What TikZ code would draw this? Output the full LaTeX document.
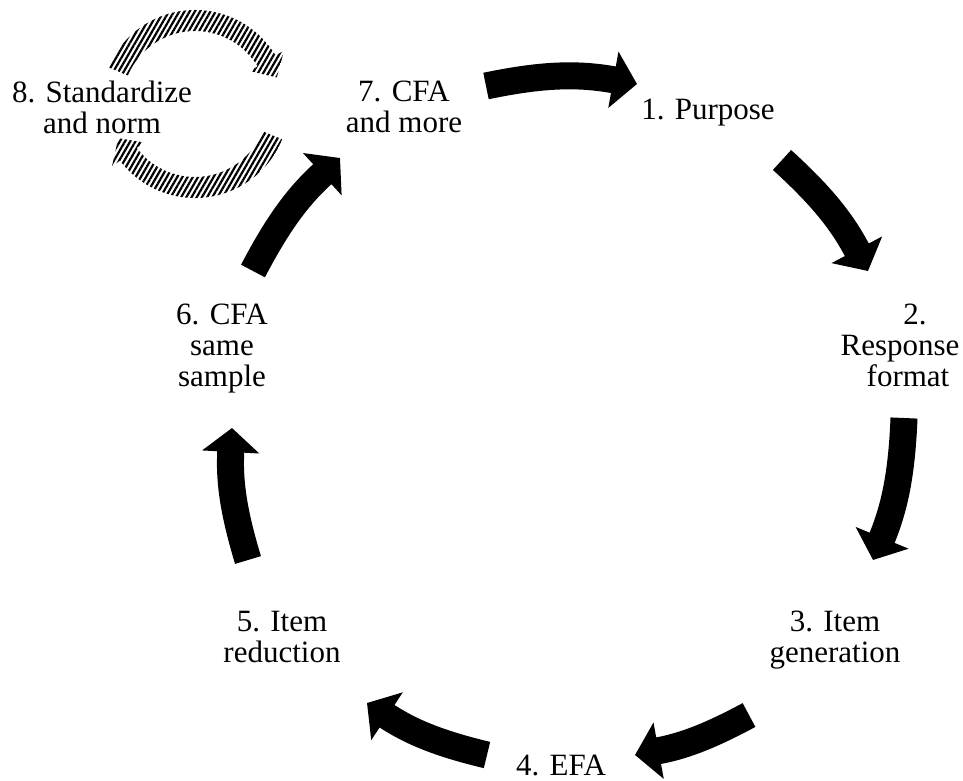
\documentclass[tikz,border=0pt]{standalone}
\usepackage{fontspec}
\setmainfont{Liberation Serif}
\usetikzlibrary{arrows.meta,patterns.meta}
\begin{document}
\begin{tikzpicture}[x=1pt,y=-1pt,
  lbl/.style={inner sep=0pt, anchor=north, align=center,
              font=\fontsize{31}{31}\selectfont},
  cyc/.style={line width=27pt, -{Triangle[length=24pt,width=56pt]}},
  hatch/.style={draw=none,
    pattern={Lines[angle=60,distance=4.5pt,line width=2.2pt]}}]
\useasboundingbox (0,0) rectangle (963,781);

% step labels
\node[lbl] (s1) at (708,99)  {1. Purpose};
\node[lbl] (s2) at (900,304) {\hspace*{30pt}2.\\Response\\\hspace*{16pt}format};
\node[lbl] (s3) at (835,611) {3. Item\\generation};
\node[lbl] (s4) at (561,755) {4. EFA};
\node[lbl] (s5) at (282,611) {5. Item\\reduction};
\node[lbl] (s6) at (222,304) {6. CFA\\same\\sample};
\node[lbl] (s7) at (404,81)  {7. CFA\\and more};
\node[lbl] (s8) at (102,81)  {8. Standardize\\and norm};

% arrow end points
\coordinate (a1s) at (486,86);  \coordinate (a1e) at (637,84);
\coordinate (a2s) at (782,160); \coordinate (a2e) at (868,271);
\coordinate (a3s) at (904,418); \coordinate (a3e) at (873,560);
\coordinate (a4s) at (749,715); \coordinate (a4e) at (635,755);
\coordinate (a5s) at (487,755); \coordinate (a5e) at (367,703);
\coordinate (a6s) at (248,560); \coordinate (a6e) at (232,428);
\coordinate (a7s) at (253,271); \coordinate (a7e) at (340,158);

% main cycle
\draw[cyc] (a1s) to[bend left=11] (a1e);
\draw[cyc] (a2s) to[bend left=10] (a2e);
\draw[cyc] (a3s) to[bend left=10] (a3e);
\draw[cyc] (a4s) to[bend left=9] (a4e);
\draw[cyc] (a5s) to[bend left=10] (a5e);
\draw[cyc] (a6s) to[bend left=10] (a6e);
\draw[cyc] (a7s) to[bend left=10] (a7e);

% hatched loop around step 8
\coordinate (C) at (195,104);
\path[hatch] ([shift={(C)}]-157:94) arc[start angle=-157,end angle=-31,radius=94]
  -- ([shift={(C)}]-31:104) -- ([shift={(C)}]-18:86)
  -- ([shift={(C)}]-31:64) -- ([shift={(C)}]-31:73)
  arc[start angle=-31,end angle=-157,radius=73] -- cycle;
\path[hatch] ([shift={(C)}]22:94) arc[start angle=22,end angle=143,radius=94]
  -- ([shift={(C)}]143:104) -- ([shift={(C)}]156:84)
  -- ([shift={(C)}]143:64) -- ([shift={(C)}]143:73)
  arc[start angle=143,end angle=22,radius=73] -- cycle;
\end{tikzpicture}
\end{document}
